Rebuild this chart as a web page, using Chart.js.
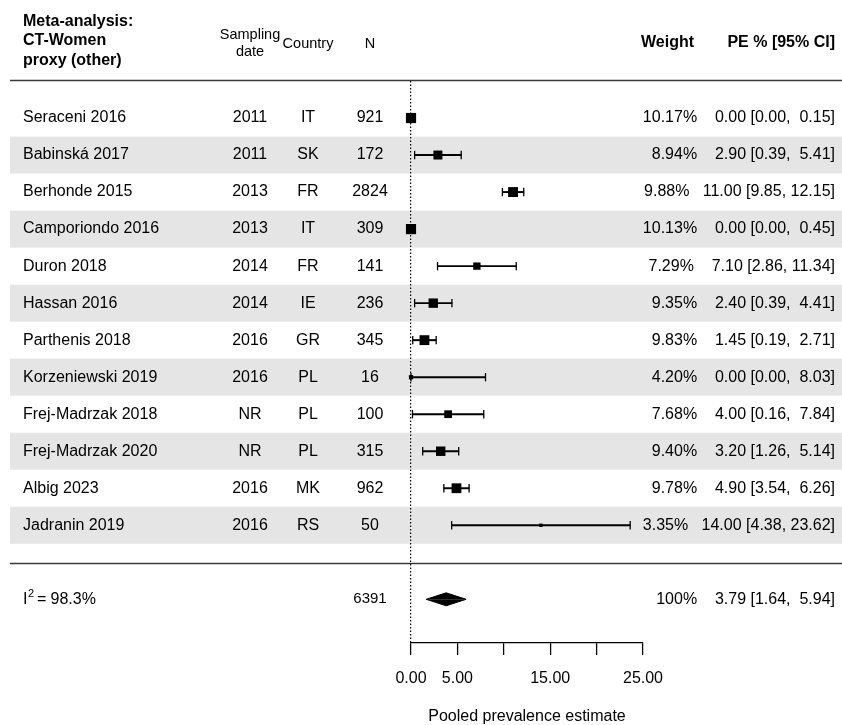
<!DOCTYPE html>
<html>
<head>
<meta charset="utf-8">
<title>Meta-analysis: CT-Women proxy (other)</title>
<script src="https://cdn.jsdelivr.net/npm/chart.js@4/dist/chart.umd.min.js"></script>
<style>
  html, body { margin: 0; padding: 0; background: #fff; overflow: hidden; }
  #wrap { width: 842px; height: 725px; }
</style>
</head>
<body>
<div id="wrap"><canvas id="forest" width="842" height="725"></canvas></div>
<script>
// ---- study data ----
const studies = ['Seraceni 2016', 'Babinská 2017', 'Berhonde 2015', 'Camporiondo 2016', 'Duron 2018',
  'Hassan 2016', 'Parthenis 2018', 'Korzeniewski 2019', 'Frej-Madrzak 2018', 'Frej-Madrzak 2020',
  'Albig 2023', 'Jadranin 2019'];
const samplingDates = ['2011', '2011', '2013', '2013', '2014', '2014', '2016', '2016', 'NR', 'NR', '2016', '2016'];
const countries = ['IT', 'SK', 'FR', 'IT', 'FR', 'IE', 'GR', 'PL', 'PL', 'PL', 'MK', 'RS'];
const sampleSizes = [921, 172, 2824, 309, 141, 236, 345, 16, 100, 315, 962, 50];
const weights = [10.17, 8.94, 9.88, 10.13, 7.29, 9.35, 9.83, 4.20, 7.68, 9.40, 9.78, 3.35];
const estimates = [0.00, 2.90, 11.00, 0.00, 7.10, 2.40, 1.45, 0.00, 4.00, 3.20, 4.90, 14.00];
const ciLower = [0.00, 0.39, 9.85, 0.00, 2.86, 0.39, 0.19, 0.00, 0.16, 1.26, 3.54, 4.38];
const ciUpper = [0.15, 5.41, 12.15, 0.45, 11.34, 4.41, 2.71, 8.03, 7.84, 5.14, 6.26, 23.62];

// ---- pooled estimate ----
const pooledEstimate = 3.79;
const pooledLower = 1.64;
const pooledUpper = 5.94;
const totalN = 6391;
const heterogeneityI2 = 98.3;

// ---- x axis ----
const xTicks = [0, 5, 10, 15, 20, 25];
const xTickLabels = ['0.00', '5.00', '', '15.00', '', '25.00'];

// ---- layout helpers ----
const FONT = "'Liberation Sans', Arial, Helvetica, sans-serif";
const summaryRow = studies.length + 1;
const diamondHalf = 0.175;
const col = { label: 23, date: 250, country: 308, n: 370, annotRight: 835, weightHead: 694 };

// square side (px) scaled between the smallest and largest weight
const wMin = Math.min(...weights), wMax = Math.max(...weights);
const squareSide = w => (0.5 + (w - wMin) / (wMax - wMin)) * 6.8;

// right-aligned annotation text: weight, estimate and CI, padded column-wise
const fmt = v => v.toFixed(2);
const padL = (s, n) => ' '.repeat(Math.max(0, n - s.length)) + s;
const wStr = weights.map(w => fmt(w) + '%').concat(['100%']);
const eStr = estimates.map(fmt).concat([fmt(pooledEstimate)]);
const lStr = ciLower.map(fmt).concat([fmt(pooledLower)]);
const uStr = ciUpper.map(fmt).concat([fmt(pooledUpper)]);
const widthOf = arr => Math.max(...arr.map(s => s.length));
const annotations = wStr.map((_, i) =>
  padL(wStr[i], widthOf(wStr)) + '   ' + padL(eStr[i], widthOf(eStr)) +
  ' [' + padL(lStr[i], widthOf(lStr)) + ', ' + padL(uStr[i], widthOf(uStr)) + ']');

// background bands and horizontal rules
const bandsPlugin = {
  id: 'forestBands',
  beforeDraw(chart) {
    const { ctx, scales: { y } } = chart;
    ctx.save();
    ctx.fillStyle = '#fff';
    ctx.fillRect(0, 0, chart.width, chart.height);
    ctx.fillStyle = '#e5e5e5';
    studies.forEach((_, i) => {
      if (i % 2 === 1) {
        const t = y.getPixelForValue(i - 0.5), b = y.getPixelForValue(i + 0.5);
        ctx.fillRect(10, t, chart.width - 10, b - t);
      }
    });
    ctx.strokeStyle = '#3a3a3a';
    ctx.lineWidth = 1.7;
    [-1.03, studies.length + 0.03].forEach(v => {
      const py = Math.round(y.getPixelForValue(v)) + 0.5;
      ctx.beginPath();
      ctx.moveTo(10, py);
      ctx.lineTo(chart.width, py);
      ctx.stroke();
    });
    ctx.restore();
  }
};

// table text: headers, study columns, annotations and pooled row
const textPlugin = {
  id: 'forestText',
  afterDraw(chart) {
    const { ctx, scales: { y } } = chart;
    ctx.save();
    ctx.fillStyle = '#000';
    ctx.textBaseline = 'middle';

    // headers
    ctx.font = 'bold 16px ' + FONT;
    ctx.textAlign = 'left';
    ctx.fillText('Meta-analysis:', col.label, 21.5);
    ctx.fillText('CT-Women', col.label, 41);
    ctx.fillText('proxy (other)', col.label, 60.5);
    ctx.textAlign = 'right';
    ctx.fillText('Weight', col.weightHead, 43);
    ctx.fillText('PE % [95% CI]', col.annotRight, 43);
    ctx.font = '14.5px ' + FONT;
    ctx.textAlign = 'center';
    ctx.fillText('Sampling', col.date, 35);
    ctx.fillText('date', col.date, 52);
    ctx.fillText('Country', col.country, 44);
    ctx.fillText('N', col.n, 44);

    // study rows
    ctx.font = '16px ' + FONT;
    studies.forEach((name, i) => {
      const py = y.getPixelForValue(i);
      ctx.textAlign = 'left';
      ctx.fillText(name, col.label, py);
      ctx.textAlign = 'center';
      ctx.fillText(samplingDates[i], col.date, py);
      ctx.fillText(countries[i], col.country, py);
      ctx.fillText(String(sampleSizes[i]), col.n, py);
      ctx.textAlign = 'right';
      ctx.fillText(annotations[i], col.annotRight, py);
    });

    // pooled row
    const sy = y.getPixelForValue(summaryRow);
    ctx.textAlign = 'left';
    ctx.fillText('I', col.label, sy);
    const iw = ctx.measureText('I').width;
    ctx.font = '11px ' + FONT;
    ctx.fillText('2', col.label + iw + 0.5, sy - 5);
    ctx.font = '16px ' + FONT;
    ctx.fillText('=', 37, sy);
    ctx.fillText(heterogeneityI2.toFixed(1) + '%', 50.5, sy);
    ctx.textAlign = 'center';
    ctx.font = '15px ' + FONT;
    ctx.fillText(String(totalN), col.n, sy);
    ctx.font = '16px ' + FONT;
    ctx.textAlign = 'right';
    ctx.fillText(annotations[studies.length], col.annotRight, sy);
    ctx.restore();
  }
};

const rows = studies.map((_, i) => i);

new Chart(document.getElementById('forest'), {
  type: 'scatter',
  data: {
    datasets: [
      {
        // study point estimates
        type: 'scatter',
        data: rows.map(i => ({ x: estimates[i], y: i })),
        pointStyle: 'rect',
        pointRadius: c => squareSide(weights[c.dataIndex]) / Math.SQRT2,
        pointBackgroundColor: '#000',
        pointBorderWidth: 0,
        clip: false
      },
      {
        // pooled estimate diamond, upper half
        type: 'line',
        data: [{ x: pooledLower, y: summaryRow }, { x: pooledEstimate, y: summaryRow - diamondHalf }, { x: pooledUpper, y: summaryRow }],
        fill: { value: summaryRow },
        backgroundColor: '#000',
        borderColor: '#000',
        borderWidth: 1,
        pointRadius: 0,
        tension: 0,
        clip: false
      },
      {
        // pooled estimate diamond, lower half
        type: 'line',
        data: [{ x: pooledLower, y: summaryRow }, { x: pooledEstimate, y: summaryRow + diamondHalf }, { x: pooledUpper, y: summaryRow }],
        fill: { value: summaryRow },
        backgroundColor: '#000',
        borderColor: '#000',
        borderWidth: 1,
        pointRadius: 0,
        tension: 0,
        clip: false
      },
      {
        // confidence interval end caps
        type: 'scatter',
        data: rows.flatMap(i => [{ x: ciLower[i], y: i }, { x: ciUpper[i], y: i }]),
        pointStyle: 'line',
        rotation: 90,
        pointRadius: 4.2,
        pointBorderColor: '#000',
        pointBorderWidth: 1.3,
        clip: false
      },
      {
        // confidence interval lines
        type: 'bar',
        indexAxis: 'y',
        data: rows.map(i => ({ x: [ciLower[i], ciUpper[i]], y: i })),
        backgroundColor: '#000',
        borderWidth: 0,
        barThickness: 1.3,
        grouped: false,
        clip: false
      }
    ]
  },
  options: {
    responsive: false,
    animation: false,
    events: [],
    layout: { padding: { left: 411, right: 199, top: 81, bottom: 0 } },
    plugins: { legend: { display: false }, tooltip: { enabled: false } },
    scales: {
      x: {
        type: 'linear',
        min: xTicks[0],
        max: xTicks[xTicks.length - 1],
        offset: false,
        afterBuildTicks: s => { s.ticks = xTicks.map(v => ({ value: v })); },
        afterFit: s => { s.height = 82; },
        ticks: {
          autoSkip: false,
          maxRotation: 0,
          color: '#000',
          padding: 14,
          font: { family: FONT, size: 16 },
          callback: (v, i) => xTickLabels[i]
        },
        grid: {
          drawOnChartArea: true,
          offset: false,
          color: c => (c.tick && c.tick.value === 0 ? '#000' : 'rgba(0,0,0,0)'),
          lineWidth: 1.2,
          tickLength: 12,
          tickColor: '#000',
          tickWidth: 1.3,
          tickBorderDash: []
        },
        border: { display: true, color: '#000', width: 1.3, dash: [1.5, 2] },
        title: {
          display: true,
          text: 'Pooled prevalence estimate',
          color: '#000',
          font: { family: FONT, size: 16 },
          padding: { top: 0, bottom: -1 }
        }
      },
      y: {
        type: 'linear',
        display: false,
        reverse: true,
        offset: false,
        grid: { offset: false },
        min: -1,
        max: 14.18
      }
    }
  },
  plugins: [bandsPlugin, textPlugin]
});
</script>
</body>
</html>
